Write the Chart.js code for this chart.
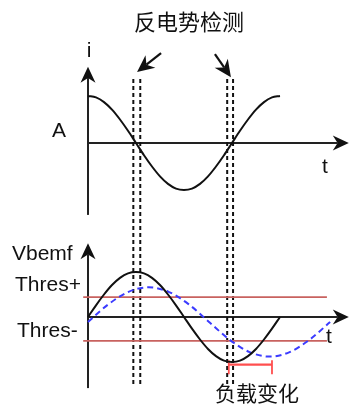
<!DOCTYPE html>
<html>
<head>
<meta charset="utf-8">
<script src="https://cdn.jsdelivr.net/npm/chart.js@4"></script>
<style>
  body { margin: 0; background: #fff; }
  #wrap { position: relative; width: 349px; height: 406px; }
</style>
</head>
<body>
<div id="wrap"><canvas id="c" width="349" height="406"></canvas></div>
<script>
// phase in degrees, amplitudes in "one peak" units
var curDeg = [0, 15, 30, 45, 60, 75, 90, 105, 120, 135, 150, 165, 180, 195, 210, 225, 240, 255, 270, 285, 300, 315, 330, 345, 360];
var curVal = [1, 0.97, 0.87, 0.71, 0.5, 0.26, 0, -0.26, -0.5, -0.71, -0.87, -0.97, -1, -0.97, -0.87, -0.71, -0.5, -0.26, 0, 0.26, 0.5, 0.71, 0.87, 0.97, 1];

var bemfDeg = [0, 15, 30, 45, 60, 75, 90, 105, 120, 135, 150, 165, 180, 195, 210, 225, 240, 255, 270, 285, 300, 315, 330, 345, 360];
var bemfVal = [0, 0.26, 0.5, 0.71, 0.87, 0.97, 1, 0.97, 0.87, 0.71, 0.5, 0.26, 0, -0.26, -0.5, -0.71, -0.87, -0.97, -1, -0.97, -0.87, -0.71, -0.5, -0.26, 0];

var loadDeg = [0, 38, 76, 114, 151, 189, 227, 265, 303, 341, 378, 416, 454];
var loadVal = [-0.11, 0.28, 0.56, 0.66, 0.56, 0.28, -0.11, -0.5, -0.78, -0.88, -0.78, -0.5, -0.11];

var thresPlus = 0.44;
var thresMinus = -0.53;
var thresRange = [-9, 448];

var detectDeg = [85, 98, 261, 272];
var detectRange = [1.36, -5.15];

var loadSpan = [264, 345];
var loadLevel = -1.06;
var loadTick = [-0.96, -1.27];

// axes: [x1, y1, x2, y2, yAxis]
var axisLines = [
	[0, -1.53, 0, 1.62, 'yTop'],
	[0, 0, 489, 0, 'yTop'],
	[0, -1.58, 0, 1.64, 'yBot'],
	[0, 0, 489, 0, 'yBot']
];
// detection arrows (top panel units)
var pointerArrows = [
	[137, 1.91, 92, 1.51],
	[238, 1.89, 268, 1.40]
];

function pts(xs, ys) {
	var out = [];
	for (var i = 0; i < xs.length; i++) out.push({x: xs[i], y: ys[i]});
	return out;
}

var datasets = [];
datasets.push({data: pts(curDeg, curVal), yAxisID: 'yTop', borderColor: '#111', borderWidth: 2, cubicInterpolationMode: 'monotone'});
datasets.push({data: pts(bemfDeg, bemfVal), yAxisID: 'yBot', borderColor: '#111', borderWidth: 2, cubicInterpolationMode: 'monotone'});
datasets.push({data: pts(loadDeg, loadVal), yAxisID: 'yBot', borderColor: '#3b3bff', borderWidth: 2, borderDash: [6, 4], cubicInterpolationMode: 'monotone'});
datasets.push({data: pts(thresRange, [thresPlus, thresPlus]), yAxisID: 'yBot', borderColor: '#c8625f', borderWidth: 1.8});
datasets.push({data: pts(thresRange, [thresMinus, thresMinus]), yAxisID: 'yBot', borderColor: '#c8625f', borderWidth: 1.8});
datasets.push({data: pts(loadSpan, [loadLevel, loadLevel]), yAxisID: 'yBot', borderColor: '#ff4f4f', borderWidth: 2.2});
for (var k = 0; k < loadSpan.length; k++) {
	datasets.push({data: pts([loadSpan[k], loadSpan[k]], loadTick), yAxisID: 'yBot', borderColor: '#ff4f4f', borderWidth: 1.8});
}
for (var j = 0; j < detectDeg.length; j++) {
	datasets.push({data: pts([detectDeg[j], detectDeg[j]], detectRange), yAxisID: 'yTop', borderColor: '#111', borderWidth: 2, borderDash: [4, 3]});
}

function drawArrow(ctx, x1, y1, x2, y2, len, half) {
	var a = Math.atan2(y2 - y1, x2 - x1);
	var bx = x2 - Math.cos(a) * len * 0.7, by = y2 - Math.sin(a) * len * 0.7;
	ctx.beginPath();
	ctx.moveTo(x1, y1);
	ctx.lineTo(bx, by);
	ctx.stroke();
	var px = -Math.sin(a), py = Math.cos(a);
	var rx = x2 - Math.cos(a) * len, ry = y2 - Math.sin(a) * len;
	ctx.beginPath();
	ctx.moveTo(x2, y2);
	ctx.lineTo(rx + px * half, ry + py * half);
	ctx.lineTo(bx, by);
	ctx.lineTo(rx - px * half, ry - py * half);
	ctx.closePath();
	ctx.fill();
}

var sketch = {
	id: 'sketch',
	beforeDatasetsDraw: function(chart) {
		var ctx = chart.ctx, sx = chart.scales.x;
		ctx.save();
		ctx.strokeStyle = '#222';
		ctx.fillStyle = '#111';
		ctx.lineWidth = 2;
		axisLines.forEach(function(l) {
			var sy = chart.scales[l[4]];
			drawArrow(ctx, sx.getPixelForValue(l[0]), sy.getPixelForValue(l[1]),
				sx.getPixelForValue(l[2]), sy.getPixelForValue(l[3]), 16, 7.5);
		});
		ctx.restore();
	},
	afterDatasetsDraw: function(chart) {
		var ctx = chart.ctx, sx = chart.scales.x, st = chart.scales.yTop;
		ctx.save();
		ctx.strokeStyle = '#111';
		ctx.fillStyle = '#111';
		ctx.lineWidth = 2.2;
		pointerArrows.forEach(function(l) {
			drawArrow(ctx, sx.getPixelForValue(l[0]), st.getPixelForValue(l[1]),
				sx.getPixelForValue(l[2]), st.getPixelForValue(l[3]), 17, 8);
		});

		ctx.fillStyle = '#111';
		ctx.textBaseline = 'middle';
		ctx.textAlign = 'center';
		ctx.font = '22px "Noto Sans CJK SC"';
		ctx.fillText('反电势检测', 189, 22);
		ctx.textAlign = 'left';
		ctx.font = '21px "Noto Sans CJK SC"';
		ctx.fillText('负载变化', 215, 393);

		ctx.textBaseline = 'alphabetic';
		ctx.font = '21px "Liberation Sans"';
		ctx.textAlign = 'center';
		ctx.fillText('i', 89, 57);
		ctx.textAlign = 'left';
		ctx.fillText('A', 52, 137);
		ctx.fillText('t', 322, 173);
		ctx.fillText('Vbemf', 12, 260);
		ctx.fillText('Thres+', 15, 291);
		ctx.fillText('Thres-', 17, 337);
		ctx.fillText('t', 326, 343);
		ctx.restore();
	}
};

new Chart(document.getElementById('c'), {
	type: 'scatter',
	data: {datasets: datasets},
	options: {
		responsive: false,
		animation: false,
		devicePixelRatio: 1,
		layout: {padding: 0},
		elements: {point: {radius: 0}, line: {fill: false}},
		datasets: {scatter: {showLine: true, pointRadius: 0}},
		plugins: {legend: {display: false}, tooltip: {enabled: false}},
		scales: {
			x: {type: 'linear', min: -165, max: 489.4, display: false},
			yTop: {type: 'linear', position: 'left', min: -5.5957, max: 3.0426, display: false},
			yBot: {type: 'linear', position: 'left', min: -1.9778, max: 7.0444, display: false}
		}
	},
	plugins: [sketch]
});
</script>
</body>
</html>
